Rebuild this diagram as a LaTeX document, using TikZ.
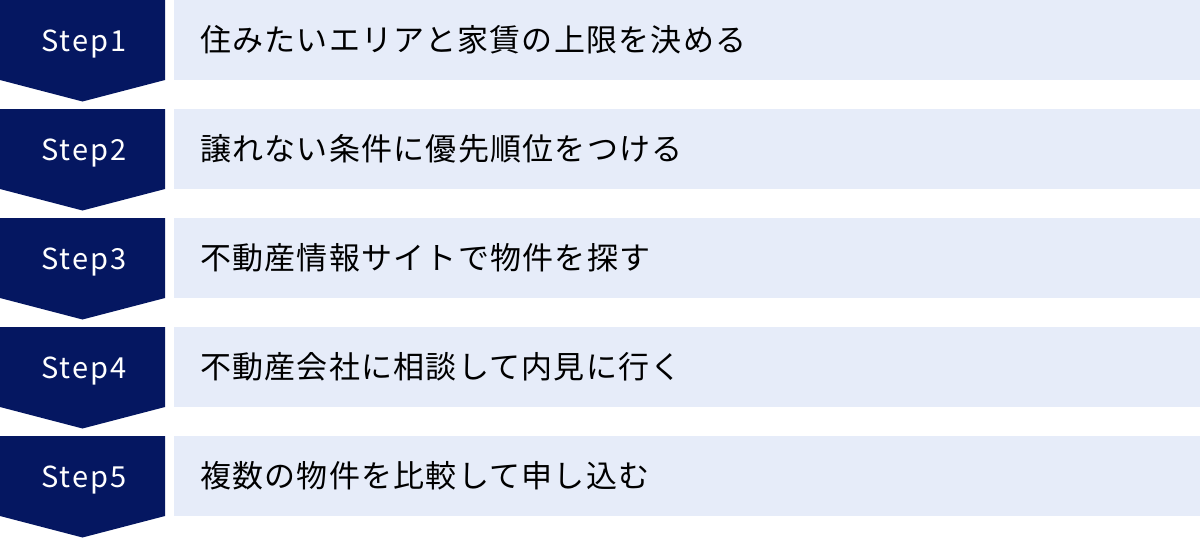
\documentclass[tikz,border=0pt]{standalone}
\usepackage{fontspec}
\setmainfont{Noto Sans CJK JP}
\definecolor{stepnavy}{HTML}{051761}
\definecolor{rowblue}{HTML}{E6ECF9}

\begin{document}
\begin{tikzpicture}[x = 1pt, y = -1pt]
		\tikzset{steplabel/.style = {text = white, inner sep = 0pt, font = \fontsize{29}{34}\selectfont\addfontfeatures{LetterSpace = 7}},
			rowtext/.style = {anchor = west, inner sep = 0pt, font = \fontsize{31}{36}\selectfont\addfontfeatures{LetterSpace = 4}}}
		\useasboundingbox (0, 0) rectangle (1200, 538);
		\foreach \n/\txt in {1/住みたいエリアと家賃の上限を決める, 2/譲れない条件に優先順位をつける, 3/不動産情報サイトで物件を探す, 4/不動産会社に相談して内見に行く, 5/複数の物件を比較して申し込む} {
			\pgfmathsetmacro{\rowy}{(\n - 1) * 109}
			\fill[stepnavy] (0, \rowy) -- (165, \rowy) -- (165, \rowy + 80) -- (82.5, \rowy + 101.5) -- (0, \rowy + 80) -- cycle;
			\fill[rowblue] (174, \rowy) rectangle (1200, \rowy + 80);
			\node[steplabel] (step\n) at (84, \rowy + 44) {Step\n};
			\node[rowtext] (task\n) at (200, \rowy + 39.5) {\txt};
		}
		\end{tikzpicture}
\end{document}
